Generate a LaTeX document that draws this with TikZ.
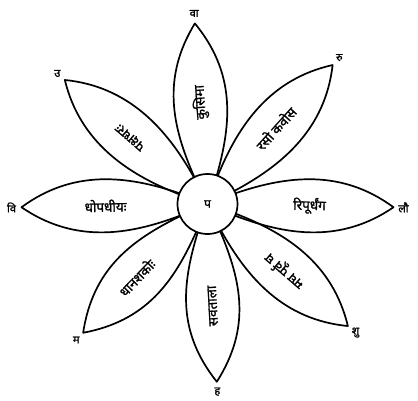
\documentclass[tikz,border=0pt]{standalone}
\usepackage{fontspec}
\newfontfamily\deva[Script=Devanagari, FakeBold=1.3]{Noto Sans}

\begin{document}
\begin{tikzpicture}[
    x=1pt, y=1pt,
    petal/.style={line width=1.7pt, line join=round},
    core/.style={circle, draw, line width=1.7pt, fill=white, minimum size=60pt, inner sep=0pt, font=\deva\fontsize{12}{14}\selectfont},
    word/.style={font=\deva\fontsize{13.5}{16}\selectfont, inner sep=1pt},
    tiplabel/.style={font=\deva\fontsize{11}{13}\selectfont, inner sep=1pt}
]

\useasboundingbox (-207.5,-196) rectangle (210.5,204);

% Petals with their words and tip letters
\foreach \ang/\len/\rot/\txt/\tip [count=\i] in {94/181/94/कुसिमा/वा, 48/187/48/रसो कवोस/रु, -1/186/-1/रिपूर्धंग/लौ, -41/186/139/मघ पूर्व घ/शु, -87/178/93/सवताला/ह, -134/179/46/धानशकोः/म, 181/186/1/धोपधीयः/वि, 139/189/139/पक्षधरः/उ} {
  \draw[petal, rotate=\ang] (22:30) .. controls (80,30) and (\len-52,37) .. (\len,0)
        .. controls (\len-52,-37) and (80,-30) .. (-22:30);
  \node[word, rotate=\rot] (word\i) at (\ang:102) {\txt};
  \node[tiplabel] (tip\i) at (\ang:\len+10) {\tip};
}

% Centre
\node[core] (centre) at (0,0) {प};

\end{tikzpicture}
\end{document}
